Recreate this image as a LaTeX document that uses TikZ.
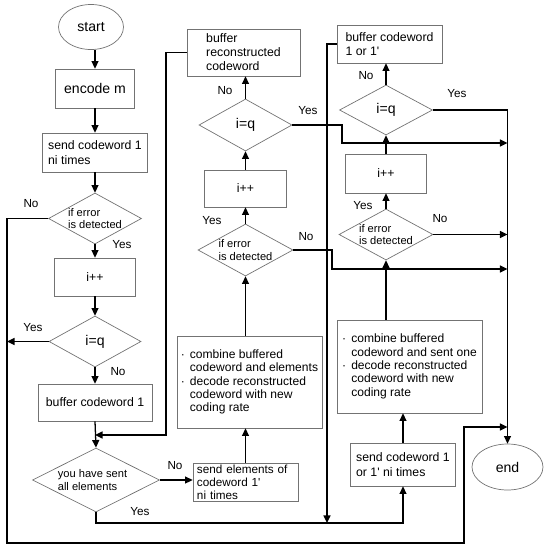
\documentclass[tikz,border=0pt]{standalone}
\usepackage{fontspec}
\setmainfont{Liberation Sans}
\usetikzlibrary{shapes,arrows.meta,positioning,calc}
\newcommand{\bitem}{\makebox[0.75em][l]{·}}
\newcommand{\bcont}{\hspace*{0.75em}}

\begin{document}
\begin{tikzpicture}[x=0.03cm, y=-0.03cm,
    every node/.style={font=\fontsize{10.5}{12.5}\selectfont},
    block/.style={draw=black!55, line width=0.6pt, rectangle, inner xsep=3pt, inner ysep=1pt, align=left},
    terminal/.style={draw=black!55, line width=0.6pt, ellipse, font=\fontsize{12}{14}\selectfont},
    decision/.style={draw=black!55, line width=0.6pt, diamond, inner sep=0pt},
    dtext/.style={font=\fontsize{9.5}{11}\selectfont, align=left},
    qtext/.style={font=\fontsize{12}{14}\selectfont},
    lbl/.style={font=\fontsize{10}{12}\selectfont, inner sep=0pt},
    arr/.style={line width=1.1pt, -{Triangle[length=6.5pt,width=6pt]}}]
    \useasboundingbox (0,0) rectangle (547,550);

    % First column
    \node[terminal, minimum width=1.95cm, minimum height=1.35cm] (start) at (91,27) {start};
    \node[block, minimum width=2.37cm, minimum height=1.17cm, font=\fontsize{12}{14}\selectfont] (enc) at (95,88.5) {encode m};
    \node[block, minimum width=3.15cm, minimum height=1.17cm] (send1) at (95,152.5) {send codeword 1\\ni times};
    \node[decision, minimum width=2.79cm, minimum height=1.53cm, label={[dtext]center:{if error\\is detected}}] (err1) at (95,218.5) {};
    \node[block, minimum width=2.43cm, minimum height=1.14cm] (inc1) at (95,277) {i++};
    \node[decision, minimum width=2.76cm, minimum height=1.53cm, label={[qtext]center:i=q}] (eq1) at (95,341.5) {};
    \node[block, minimum width=3.42cm, minimum height=1.11cm] (buf1) at (95,402.5) {buffer codeword 1};
    \node[decision, minimum width=3.81cm, minimum height=1.92cm, label={[dtext, xshift=-3pt]center:{you have sent\\all elements}}] (sent) at (96,480) {};

    % Second column
    \node[block, minimum width=3.15cm, minimum height=1.14cm, text width=2.91cm, inner ysep=0pt, font=\fontsize{10}{11}\selectfont] (sendel) at (245.5,482) {send elements of\\codeword 1\textquotesingle\\ni times};
    \node[block, minimum width=4.35cm, minimum height=2.76cm, font=\fontsize{10.3}{11.4}\selectfont] (comb1) at (249.5,382) {\bitem combine buffered\\\bcont codeword and elements\\\bitem decode reconstructed\\\bcont codeword with new\\\bcont coding rate};
    \node[decision, minimum width=2.85cm, minimum height=1.56cm, label={[dtext]center:{if error\\is detected}}] (err2) at (245.5,250) {};
    \node[block, minimum width=2.46cm, minimum height=1.11cm] (inc2) at (245.5,188.5) {i++};
    \node[decision, minimum width=2.79cm, minimum height=1.56cm, label={[qtext]center:i=q}] (eq2) at (245.5,125) {};
    \node[block, minimum width=3.39cm, minimum height=1.41cm, font=\fontsize{10.5}{12}\selectfont] (bufrec) at (243.5,52.5) {buffer\\reconstructed\\codeword};

    % Third column
    \node[block, minimum width=3.15cm, minimum height=1.14cm] (bufc) at (389.5,44) {buffer codeword\\ 1 or 1\textquotesingle};
    \node[decision, minimum width=2.79cm, minimum height=1.5cm, label={[qtext]center:i=q}] (eq3) at (386,110) {};
    \node[block, minimum width=2.43cm, minimum height=1.17cm] (inc3) at (386,173.5) {i++};
    \node[decision, minimum width=2.82cm, minimum height=1.53cm, label={[dtext]center:{if error\\is detected}}] (err3) at (386,234.5) {};
    \node[block, minimum width=4.35cm, minimum height=2.79cm, font=\fontsize{10.3}{11.4}\selectfont] (comb2) at (409.5,366.5) {\bitem combine buffered\\\bcont codeword and sent one\\\bitem decode reconstructed\\\bcont codeword with new\\\bcont coding rate};
    \node[block, minimum width=3.15cm, minimum height=1.29cm] (sendc) at (403,464.5) {send codeword 1\\or 1\textquotesingle{} ni times};
    \node[terminal, minimum width=2.13cm, minimum height=1.38cm] (fin) at (507.5,467) {end};

    % Bends of the long connectors
    \coordinate (lrail) at (7,543);
    \coordinate (jend) at (464,427);
    \coordinate (mrail) at (166,435);
    \coordinate (ybot) at (96,523);
    \coordinate (rrail) at (327,523);
    \coordinate (k1) at (342,143);
    \coordinate (k2) at (332,269);

    % Straight arrows
    \draw[arr] (enc.north |- start.south) -- (enc.north);
    \foreach \a/\b in {enc/send1, send1/err1, err1/inc1, inc1/eq1, eq1/buf1, buf1/sent}
        \draw[arr] (\a.south) -- (\b.north);
    \foreach \a/\b in {sendel/comb1, err2/inc2, inc2/eq2, eq2/bufrec, sendc/comb2, err3/inc3, inc3/eq3, eq3/bufc}
        \draw[arr] (\a.north) -- (\a.north |- \b.south);
    \draw[arr] (err2.south |- comb1.north) -- (err2.south);
    \draw[arr] (err3.south |- comb2.north) -- (err3.south);

    % Loops and branches
    \draw[arr] (err1.west) -| (lrail) -| (jend) -- (jend -| fin.north);
    \draw[arr] (eq1.west) -- (eq1.west -| lrail);
    \draw[arr] (sent.east) -- (sent.east -| sendel.west);
    \draw[arr] (sent.south) -- (ybot) -| (sendc.south);
    \draw[arr] (bufrec.west) -| (mrail) -- (mrail -| buf1.south);
    \draw[arr] (bufc.west) -| (rrail);
    \draw[arr] (eq2.east) -| (k1) -- (k1 -| fin.north);
    \draw[arr] (err2.east) -| (k2) -- (k2 -| fin.north);
    \draw[arr] (err3.east) -- (err3.east -| fin.north);
    \draw[arr] (eq3.east) -| (fin.north);

    % Yes / No labels
    \foreach \nm/\lx/\ly/\tx in {l1/31/204/No, l2/122/245/Yes, l3/33/328/Yes, l4/118/372/No,
        l5/175/466/No, l6/140/512/Yes, l7/212/221/Yes, l8/306/237/No, l9/308/111/Yes,
        l10/225/91/No, l11/366/76/No, l12/457/94/Yes, l13/363/206/Yes, l14/440/219/No}
        \node[lbl] (\nm) at (\lx,\ly) {\tx};
\end{tikzpicture}
\end{document}
